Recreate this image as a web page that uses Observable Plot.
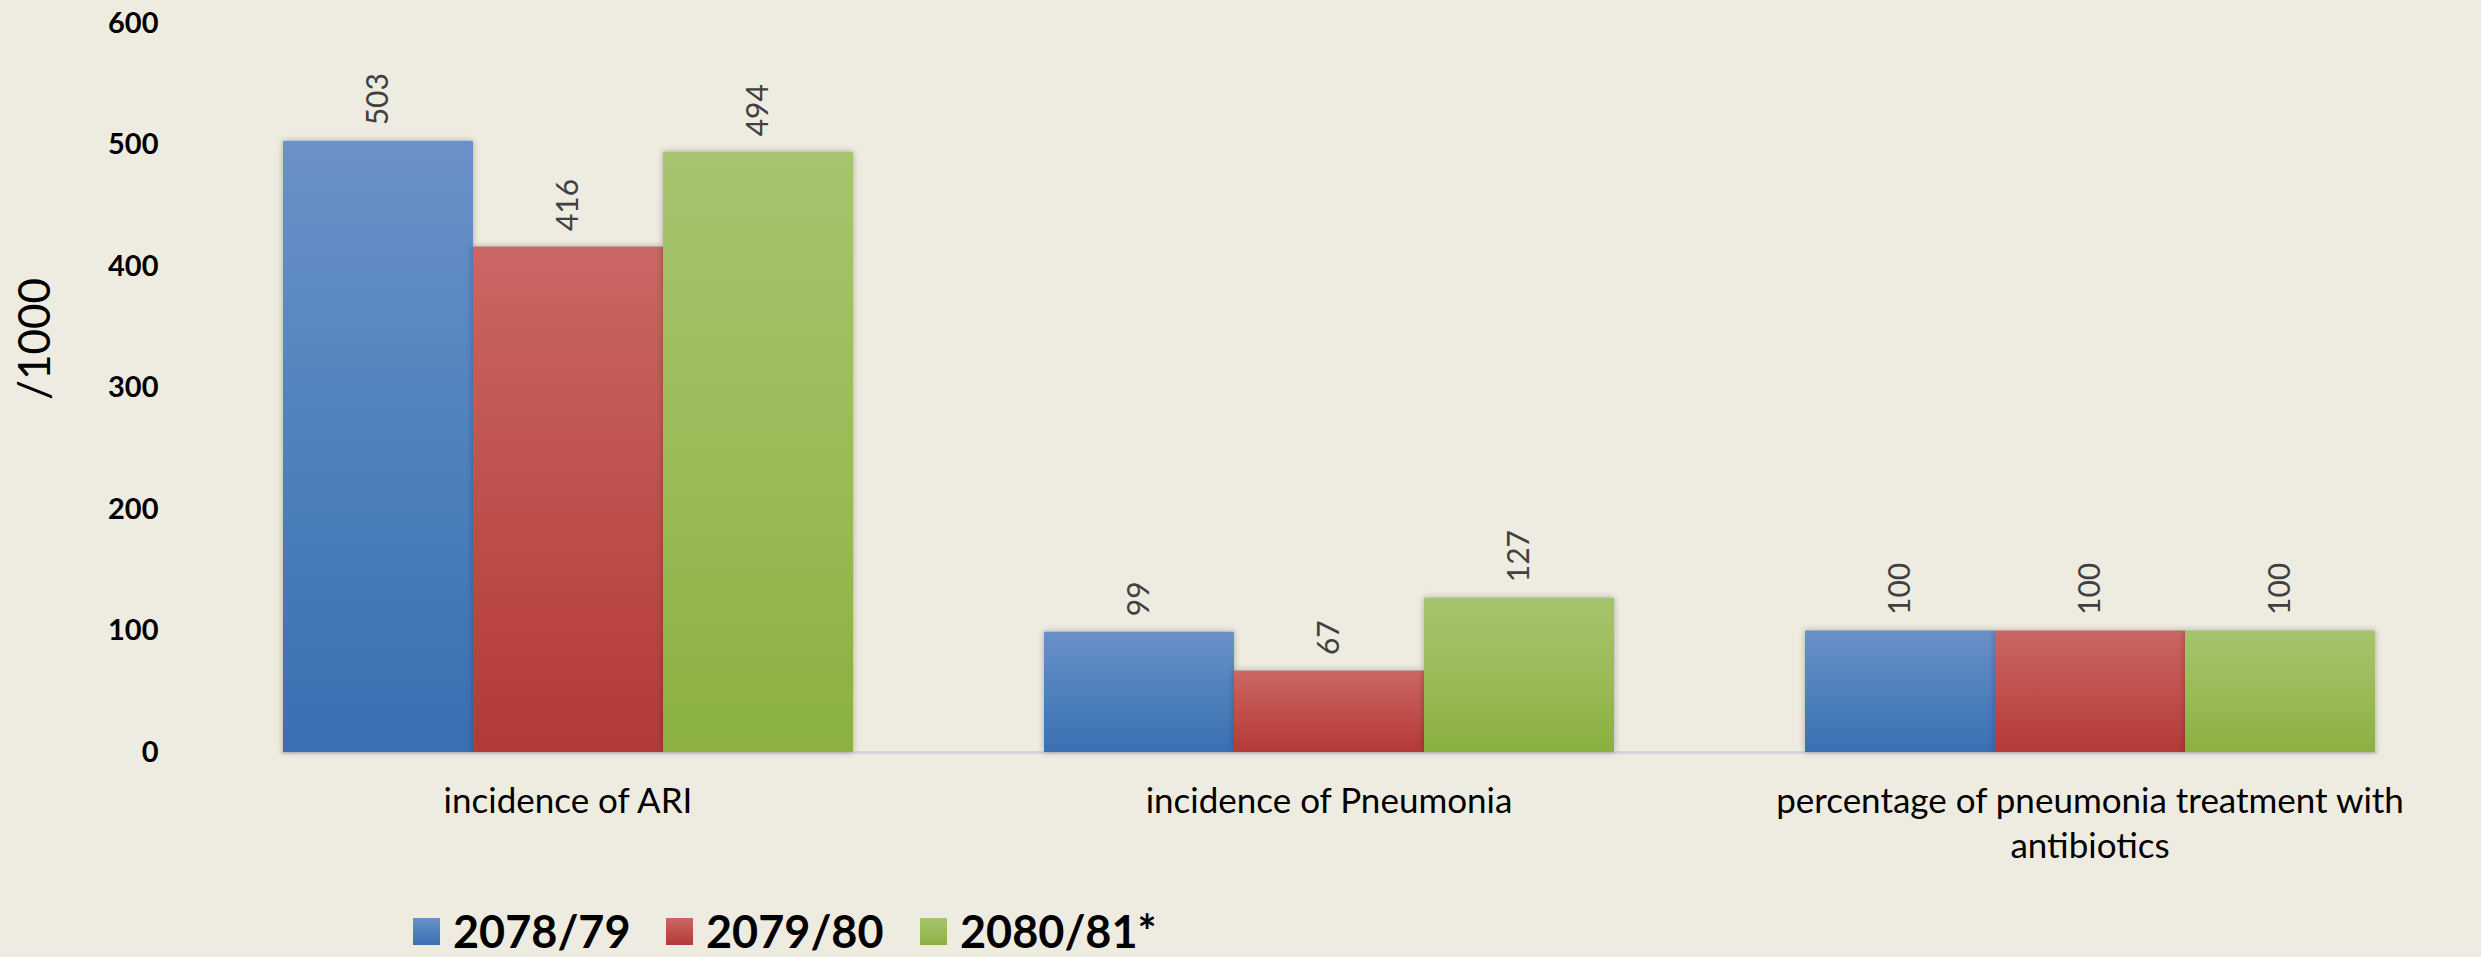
<!DOCTYPE html>
<html>
<head>
<meta charset="utf-8">
<script src="https://cdn.jsdelivr.net/npm/d3@7"></script>
<script src="https://cdn.jsdelivr.net/npm/@observablehq/plot@0.6"></script>
<style>
  html, body { margin: 0; padding: 0; background: #EEECE1; width: 2481px; height: 957px; overflow: hidden; font-family: Lato, "Open Sans", sans-serif; }
  #chart { position: relative; }
  #chart g[aria-label="bar"] rect { filter: drop-shadow(0px 0px 3px rgba(0,0,0,0.28)); }
  #legend { position: relative; height: 77px; }
  .item { position: absolute; top: 29px; display: flex; align-items: center; font-weight: bold; font-size: 45px; color: #000; line-height: 1; }
  .sw { width: 27px; height: 27px; margin-right: 13px; }
</style>
</head>
<body>
<div id="chart"></div>
<div id="legend"></div>
<script>
const categories = ["incidence of ARI", "incidence of Pneumonia", "percentage of pneumonia treatment with antibiotics"];
const categoryLabels = ["incidence of ARI", "incidence of Pneumonia", "percentage of pneumonia treatment with\nantibiotics"];
const series = ["2078/79", "2079/80", "2080/81*"];
const values2078_79 = [503, 99, 100];
const values2079_80 = [416, 67, 100];
const values2080_81 = [494, 127, 100];
const yTicks = [0, 100, 200, 300, 400, 500, 600];
const yLabel = "/1000";

const seriesValues = [values2078_79, values2079_80, values2080_81];
const rows = [];
categories.forEach((c, i) => series.forEach((s, j) => rows.push({category: c, series: s, value: seriesValues[j][i]})));

const gradIds = ["gBlue", "gRed", "gGreen"];
const gradStops = [
  ["#6A91C8", "#4F81BD", "#3A6FB2"],
  ["#C96764", "#C0504D", "#B33A38"],
  ["#A6C46D", "#9BBB59", "#8BB041"]
];

const plot = Plot.plot({
  width: 2481,
  height: 880,
  marginLeft: 186,
  marginRight: 10,
  marginTop: 23,
  marginBottom: 128,
  style: {background: "transparent", fontFamily: "Lato, 'Open Sans', sans-serif", overflow: "visible"},
  fx: {domain: categories, paddingInner: 0.25, paddingOuter: 0.125, label: null},
  x: {domain: series, padding: 0, axis: null},
  y: {domain: [0, 600], label: null},
  color: {domain: series, range: gradIds.map(id => `url(#${id})`)},
  marks: [
    Plot.frame({anchor: "bottom", stroke: "#D3D5D8", strokeWidth: 3, facet: "super"}),
    Plot.barY(rows, {fx: "category", x: "series", y: "value", fill: "series", inset: 0}),
    Plot.text(rows, {fx: "category", x: "series", y: "value", text: d => String(d.value), rotate: -90, textAnchor: "start", dy: -16, fontSize: 30, fill: "#404040"}),
    Plot.axisY({ticks: yTicks, tickSize: 0, tickPadding: 124, fontSize: 29, fontWeight: "bold", fill: "#000", label: null}),
    Plot.axisFx({anchor: "bottom", tickSize: 0, tickPadding: 28, fontSize: 35, lineHeight: 1.3, fill: "#000", label: null, tickFormat: c => categoryLabels[categories.indexOf(c)]}),
    Plot.text([yLabel], {frameAnchor: "left", rotate: -90, dx: -247, dy: 12, fontSize: 44, fill: "#000", facet: "super"})
  ]
});

// gradient definitions for bar fills
const ns = "http://www.w3.org/2000/svg";
const defs = document.createElementNS(ns, "defs");
gradIds.forEach((id, k) => {
  const g = document.createElementNS(ns, "linearGradient");
  g.setAttribute("id", id);
  g.setAttribute("x1", "0"); g.setAttribute("y1", "0"); g.setAttribute("x2", "0"); g.setAttribute("y2", "1");
  gradStops[k].forEach((col, m) => {
    const st = document.createElementNS(ns, "stop");
    st.setAttribute("offset", String(m / 2));
    st.setAttribute("stop-color", col);
    g.appendChild(st);
  });
  defs.appendChild(g);
});
plot.insertBefore(defs, plot.firstChild);
document.getElementById("chart").appendChild(plot);

// legend
const legend = document.getElementById("legend");
const legendLeft = [413, 666, 920];
series.forEach((s, k) => {
  const item = document.createElement("div");
  item.className = "item";
  item.style.left = legendLeft[k] + "px";
  const sw = document.createElement("div");
  sw.className = "sw";
  sw.style.background = `linear-gradient(${gradStops[k][0]}, ${gradStops[k][1]}, ${gradStops[k][2]})`;
  const t = document.createElement("span");
  t.textContent = s;
  item.appendChild(sw);
  item.appendChild(t);
  legend.appendChild(item);
});
</script>
</body>
</html>
